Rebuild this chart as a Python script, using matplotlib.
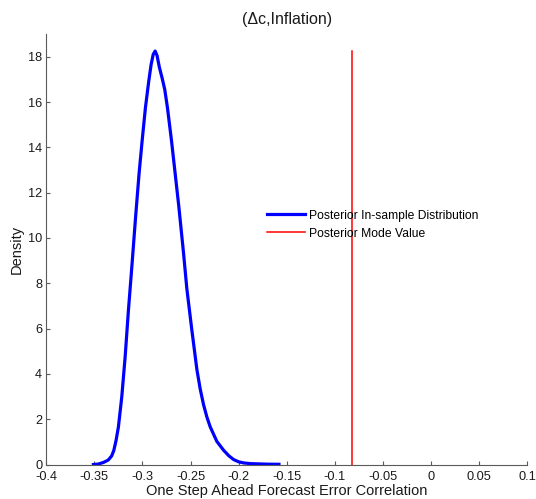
import numpy as np
import matplotlib
matplotlib.use("Agg")
import matplotlib.pyplot as plt

# posterior draws of the forecast error correlation, smoothed density
corr_grid = [-0.351, -0.346, -0.3406, -0.3355, -0.332, -0.3298, -0.3275, -0.325,
             -0.3215, -0.318, -0.3146, -0.311, -0.3069, -0.3035, -0.3003, -0.2969,
             -0.2935, -0.291, -0.2888, -0.2868, -0.2848, -0.2825, -0.2795, -0.2768,
             -0.274, -0.2698, -0.266, -0.2622, -0.2573, -0.2538, -0.2486, -0.2434,
             -0.24, -0.2365, -0.233, -0.2295, -0.2226, -0.2156, -0.21, -0.2052,
             -0.2, -0.1948, -0.188, -0.181, -0.17, -0.158]
density = [0.0, 0.02, 0.09, 0.2, 0.38, 0.62, 1.05, 1.66,
           2.99, 4.75, 6.8, 8.75, 11.05, 12.85, 14.3, 15.75,
           16.9, 17.65, 18.1, 18.25, 18.05, 17.55, 17.05, 16.55,
           15.75, 14.3, 12.85, 11.4, 9.35, 7.75, 5.93, 4.2,
           3.35, 2.65, 2.1, 1.66, 1.02, 0.63, 0.38, 0.22,
           0.12, 0.07, 0.04, 0.03, 0.015, 0.01]
mode_value = -0.082

x_ticks = [-0.4, -0.35, -0.3, -0.25, -0.2, -0.15, -0.1, -0.05, 0, 0.05, 0.1]
x_tick_labels = ["-0.4", "-0.35", "-0.3", "-0.25", "-0.2", "-0.15", "-0.1",
                 "-0.05", "0", "0.05", "0.1"]
y_ticks = [0, 2, 4, 6, 8, 10, 12, 14, 16, 18]

plt.rcParams['font.family'] = ['Liberation Sans', 'DejaVu Sans']

fig = plt.figure(figsize=(5.36, 4.99), dpi=100)
ax = fig.add_axes([0.0864, 0.0691, 0.8968, 0.8627])

ax.plot(corr_grid, density, color=(0, 0, 1), lw=2.3,
        label='Posterior In-sample Distribution', solid_joinstyle='round')
ax.plot([mode_value, mode_value], [0, max(density)], color=(1, 0, 0), lw=1.1,
        label='Posterior Mode Value')

ax.set_xlim(-0.4, 0.1)
ax.set_ylim(0, 19)
ax.set_xticks(x_ticks)
ax.set_xticklabels(x_tick_labels)
ax.set_yticks(y_ticks)

for side in ['top', 'right']:
    ax.spines[side].set_visible(False)
for side in ['left', 'bottom']:
    ax.spines[side].set_color('#5a5a5a')
    ax.spines[side].set_linewidth(0.8)
ax.tick_params(direction='in', length=3, width=0.8, colors='#5a5a5a',
               labelcolor='#1a1a1a', labelsize=9.2, pad=3)
ax.tick_params(axis='x', pad=5)

ax.set_xlabel('One Step Ahead Forecast Error Correlation', fontsize=10.5, color='#1a1a1a')
ax.xaxis.set_label_coords(0.5, -0.0616)
ax.xaxis.label.set_va('center')
ax.set_ylabel('Density', fontsize=10.5, color='#1a1a1a')
ax.yaxis.set_label_coords(-0.061, 0.5)
ax.yaxis.label.set_va('center')

fig.text(0.0864 + 0.8968 / 2, 1 - 19.5 / 499, '(\u0394c,Inflation)',
         fontsize=11.5, ha='center', va='center', color='#1a1a1a')

ax.legend(loc='upper left', bbox_to_anchor=(0.46, 0.592), frameon=False,
          fontsize=8.7, handlelength=3.1, handletextpad=0.35,
          borderaxespad=0, borderpad=0, labelspacing=0.5)

fig.savefig('out.png', dpi=100)
plt.close(fig)
